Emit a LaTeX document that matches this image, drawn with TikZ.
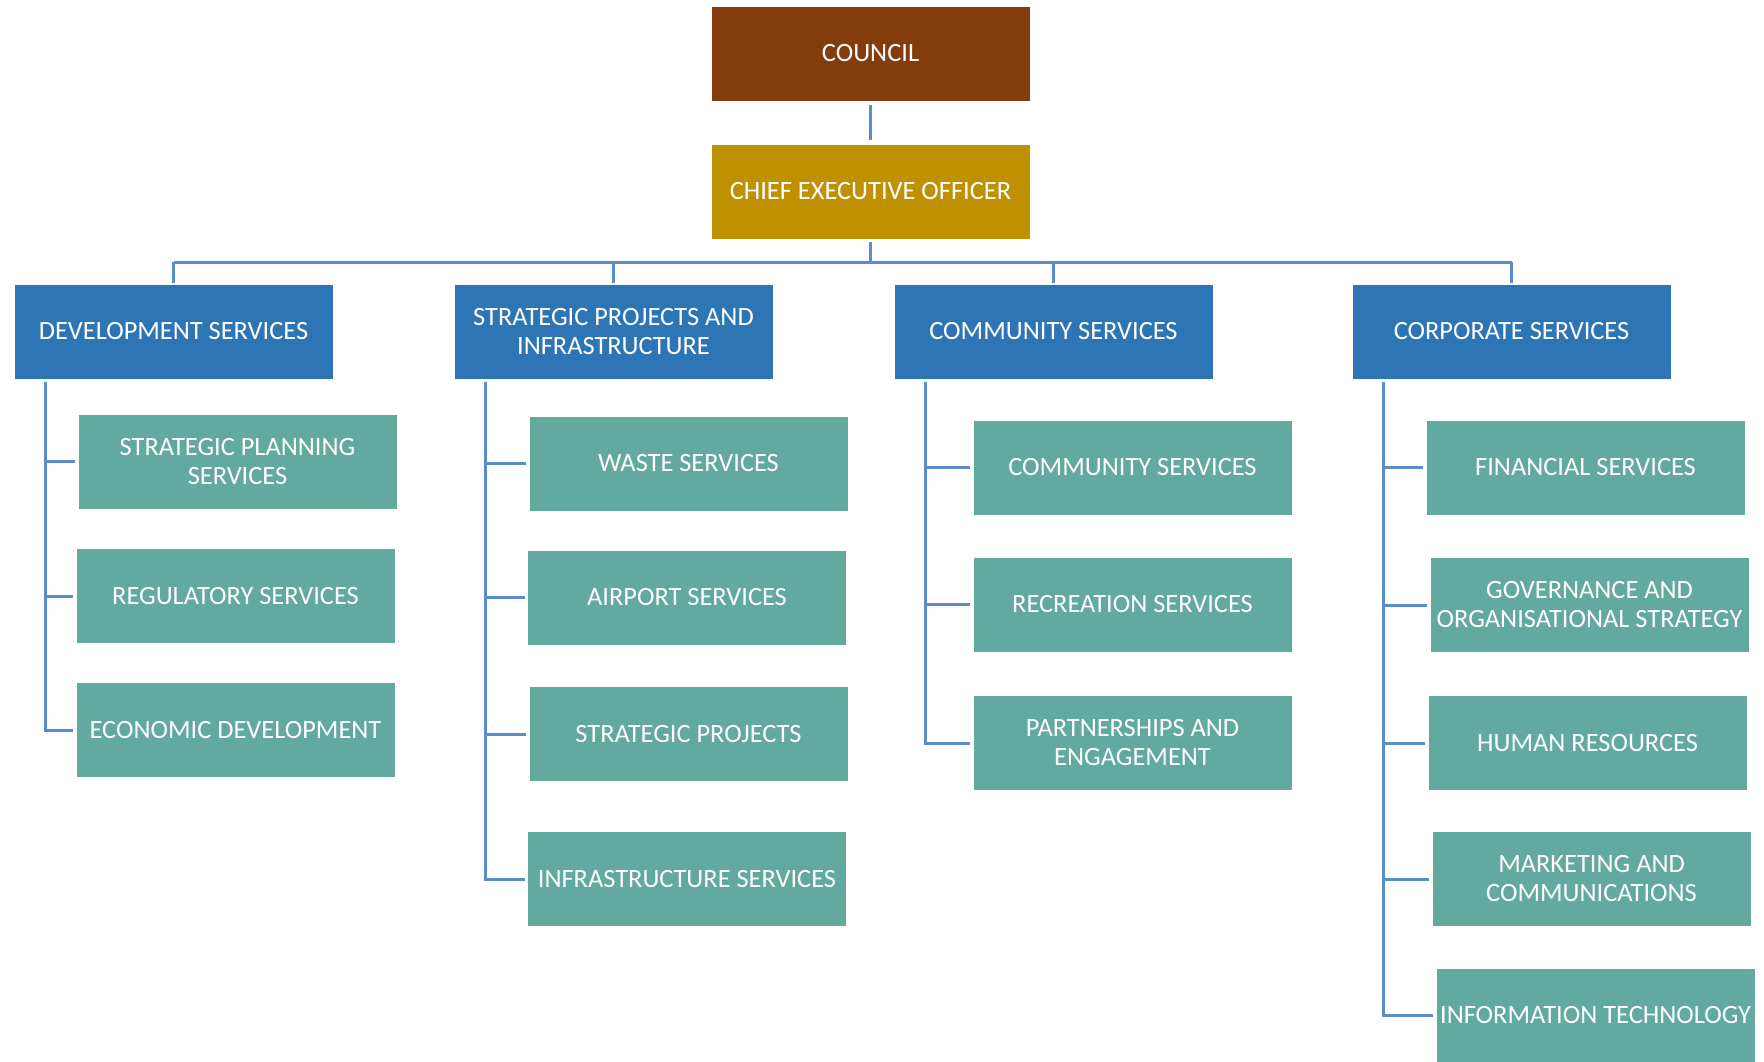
\documentclass[tikz,border=0pt]{standalone}
\usepackage{fontspec}
\setmainfont{Carlito}
\definecolor{cbrown}{HTML}{843C0C}
\definecolor{cgold}{HTML}{BF9000}
\definecolor{cblue}{HTML}{2E75B6}
\definecolor{cteal}{HTML}{62A9A0}
\definecolor{cline}{HTML}{5A8DCA}
\tikzset{
  orgbox/.style={rectangle, inner sep=0pt, outer sep=0pt, minimum width=159.5pt, minimum height=47.5pt,
    text=white, align=center, font=\fontsize{13.2}{14.5}\selectfont, draw=white, line width=0.4pt},
  topbox/.style={orgbox, fill=cbrown},
  ceobox/.style={orgbox, fill=cgold},
  deptbox/.style={orgbox, fill=cblue},
  unitbox/.style={orgbox, fill=cteal},
  link/.style={draw=cline, line width=1.5pt},
}
\begin{document}
\begin{tikzpicture}[x=0.5pt,y=-0.5pt]
\useasboundingbox (0,0) rectangle (1764,1061);
\clip (0,0) rectangle (1764,1061);
% top
\node[topbox] (council) at (870.5,53.5) {COUNCIL};
\node[ceobox] (ceo) at (870.5,191.5) {CHIEF EXECUTIVE OFFICER};
% departments
\node[deptbox] (dev) at (173.5,331.5) {DEVELOPMENT SERVICES};
\node[deptbox] (spi) at (613.5,331.5) {STRATEGIC PROJECTS AND\\INFRASTRUCTURE};
\node[deptbox] (com) at (1053.5,331.5) {COMMUNITY SERVICES};
\node[deptbox] (cor) at (1511.5,331.5) {CORPORATE SERVICES};
% development children
\node[unitbox] (sp) at (237.5,461.5) {STRATEGIC PLANNING\\SERVICES};
\node[unitbox] (reg) at (235.5,596) {REGULATORY SERVICES};
\node[unitbox] (eco) at (235.5,730) {ECONOMIC DEVELOPMENT};
% strategic projects children
\node[unitbox] (waste) at (688.5,463.5) {WASTE SERVICES};
\node[unitbox] (air) at (687,597.5) {AIRPORT SERVICES};
\node[unitbox] (sproj) at (688.5,734) {STRATEGIC PROJECTS};
\node[unitbox] (infra) at (687,879) {INFRASTRUCTURE SERVICES};
% community children
\node[unitbox] (cs) at (1132.5,467.5) {COMMUNITY SERVICES};
\node[unitbox] (rec) at (1132.5,604.5) {RECREATION SERVICES};
\node[unitbox] (part) at (1132.5,743) {PARTNERSHIPS AND\\ENGAGEMENT};
% corporate children
\node[unitbox] (fin) at (1585.5,467.5) {FINANCIAL SERVICES};
\node[unitbox] (gov) at (1589.5,605) {GOVERNANCE AND\\ORGANISATIONAL STRATEGY};
\node[unitbox] (hr) at (1587.5,743) {HUMAN RESOURCES};
\node[unitbox] (mkt) at (1591.5,879) {MARKETING AND\\COMMUNICATIONS};
\node[unitbox] (it) at (1595.5,1015.5) {INFORMATION TECHNOLOGY};
% bus and trunks
\coordinate (busL) at (173.5,262);
\coordinate (busR) at (1511.5,262);
\coordinate (tdev) at (45,382);
\coordinate (tspi) at (485,382);
\coordinate (tcom) at (925,382);
\coordinate (tcor) at (1383,382);
% connectors
\draw[link, shorten <=2pt, shorten >=2pt] (council.south) -- (ceo.north);
\draw[link, shorten <=1.5pt] (ceo.south) -- (ceo.south |- busL);
\draw[link] (busL) -- (busR);
\foreach \d in {dev,spi,com,cor}
  \draw[link, shorten >=0.5pt] (\d.north |- busL) -- (\d.north);
% development
\draw[link, shorten >=1.5pt] (tdev) |- (eco.west);
\foreach \c in {sp,reg}
  \draw[link, shorten >=1.5pt] (tdev |- \c.west) -- (\c.west);
% strategic projects
\draw[link, shorten >=1.5pt] (tspi) |- (infra.west);
\foreach \c in {waste,air,sproj}
  \draw[link, shorten >=1.5pt] (tspi |- \c.west) -- (\c.west);
% community
\draw[link, shorten >=1.5pt] (tcom) |- (part.west);
\foreach \c in {cs,rec}
  \draw[link, shorten >=1.5pt] (tcom |- \c.west) -- (\c.west);
% corporate
\draw[link, shorten >=1.5pt] (tcor) |- (it.west);
\foreach \c in {fin,gov,hr,mkt}
  \draw[link, shorten >=1.5pt] (tcor |- \c.west) -- (\c.west);
\end{tikzpicture}
\end{document}
